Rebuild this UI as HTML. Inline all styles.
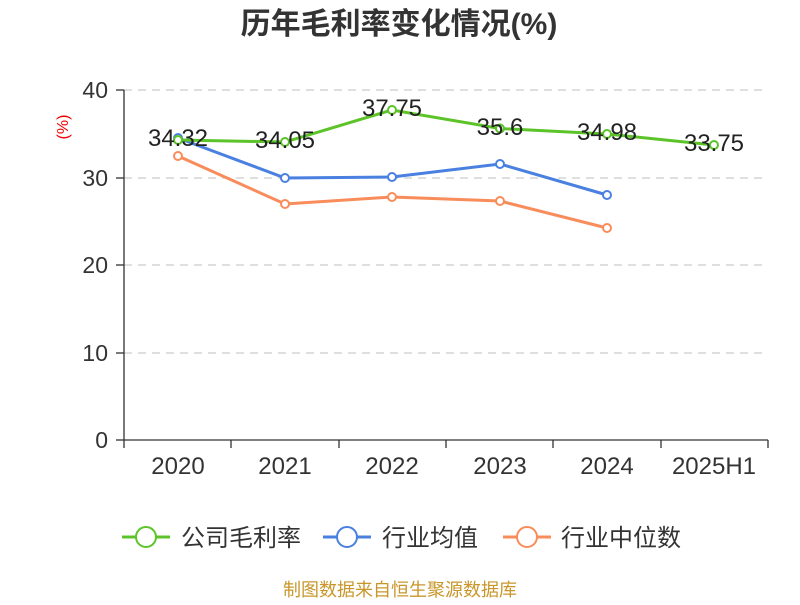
<!DOCTYPE html>
<html><head><meta charset="utf-8"><style>
body{margin:0;background:#fff;}
svg text{font-family:"Liberation Sans","Noto Sans CJK SC",sans-serif;}
</style></head><body>
<svg width="800" height="600" xmlns="http://www.w3.org/2000/svg">
<text x="399" y="34" text-anchor="middle" font-size="30" font-weight="bold" fill="#333">历年毛利率变化情况(%)</text>
<text x="68" y="127" text-anchor="middle" font-size="16" fill="#e00" transform="rotate(-90 68 127)">(%)</text>
<g stroke="#ccc" stroke-dasharray="8,6" stroke-width="1.3">
<line x1="124" y1="90" x2="768" y2="90"/><line x1="124" y1="178" x2="768" y2="178"/><line x1="124" y1="265" x2="768" y2="265"/><line x1="124" y1="353" x2="768" y2="353"/>
</g>
<g stroke="#333" stroke-width="1.3">
<line x1="124" y1="90" x2="124" y2="440"/><line x1="124" y1="440" x2="768" y2="440"/>
<line x1="116" y1="90" x2="124" y2="90"/><line x1="116" y1="178" x2="124" y2="178"/><line x1="116" y1="265" x2="124" y2="265"/><line x1="116" y1="353" x2="124" y2="353"/><line x1="116" y1="440" x2="124" y2="440"/>
<line x1="124" y1="440" x2="124" y2="448"/><line x1="231" y1="440" x2="231" y2="448"/><line x1="339" y1="440" x2="339" y2="448"/><line x1="446" y1="440" x2="446" y2="448"/><line x1="553" y1="440" x2="553" y2="448"/><line x1="661" y1="440" x2="661" y2="448"/><line x1="768" y1="440" x2="768" y2="448"/>
</g>
<g font-size="23" fill="#333" text-anchor="end">
<text x="108" y="98">40</text><text x="108" y="186">30</text><text x="108" y="273">20</text><text x="108" y="361">10</text><text x="108" y="448">0</text>
</g>
<g font-size="24" fill="#333" text-anchor="middle">
<text x="178" y="474">2020</text><text x="285" y="474">2021</text><text x="392" y="474">2022</text><text x="500" y="474">2023</text><text x="607" y="474">2024</text><text x="714" y="474">2025H1</text>
</g>
<polyline fill="none" stroke="#f98c5b" stroke-width="3" points="178,156 285,204 392,197 500,201 607,228"/>
<polyline fill="none" stroke="#4a80e0" stroke-width="3" points="178,138 285,178 392,177 500,164 607,195"/>
<polyline fill="none" stroke="#5cc428" stroke-width="3" points="178,140 285,142 392,110 500,128.5 607,134 714,145"/>
<g fill="#fff" stroke-width="2">
<g stroke="#f98c5b"><circle cx="178" cy="156" r="4"/><circle cx="285" cy="204" r="4"/><circle cx="392" cy="197" r="4"/><circle cx="500" cy="201" r="4"/><circle cx="607" cy="228" r="4"/></g>
<g stroke="#4a80e0"><circle cx="178" cy="138" r="4"/><circle cx="285" cy="178" r="4"/><circle cx="392" cy="177" r="4"/><circle cx="500" cy="164" r="4"/><circle cx="607" cy="195" r="4"/></g>
<g stroke="#5cc428"><circle cx="178" cy="140" r="4"/><circle cx="285" cy="142" r="4"/><circle cx="392" cy="110" r="4"/><circle cx="500" cy="128.5" r="4"/><circle cx="607" cy="134" r="4"/><circle cx="714" cy="145" r="4"/></g>
</g>
<g font-size="24" fill="#222" text-anchor="middle">
<text x="178" y="146">34.32</text><text x="285" y="148">34.05</text><text x="392" y="116">37.75</text><text x="500" y="135">35.6</text><text x="607" y="140">34.98</text><text x="714" y="151">33.75</text>
</g>
<g stroke-width="3" fill="#fff">
<line x1="122" y1="537" x2="170" y2="537" stroke="#5cc428"/><circle cx="146" cy="537" r="10" stroke="#5cc428" stroke-width="2"/>
<line x1="323" y1="537" x2="371" y2="537" stroke="#4a80e0"/><circle cx="347" cy="537" r="10" stroke="#4a80e0" stroke-width="2"/>
<line x1="503" y1="537" x2="551" y2="537" stroke="#f98c5b"/><circle cx="527" cy="537" r="10" stroke="#f98c5b" stroke-width="2"/>
</g>
<g font-size="24" fill="#333">
<text x="181" y="546">公司毛利率</text><text x="382" y="546">行业均值</text><text x="561" y="546">行业中位数</text>
</g>
<text x="400" y="596" text-anchor="middle" font-size="18" fill="#c8962a">制图数据来自恒生聚源数据库</text>
</svg>
</body></html>
